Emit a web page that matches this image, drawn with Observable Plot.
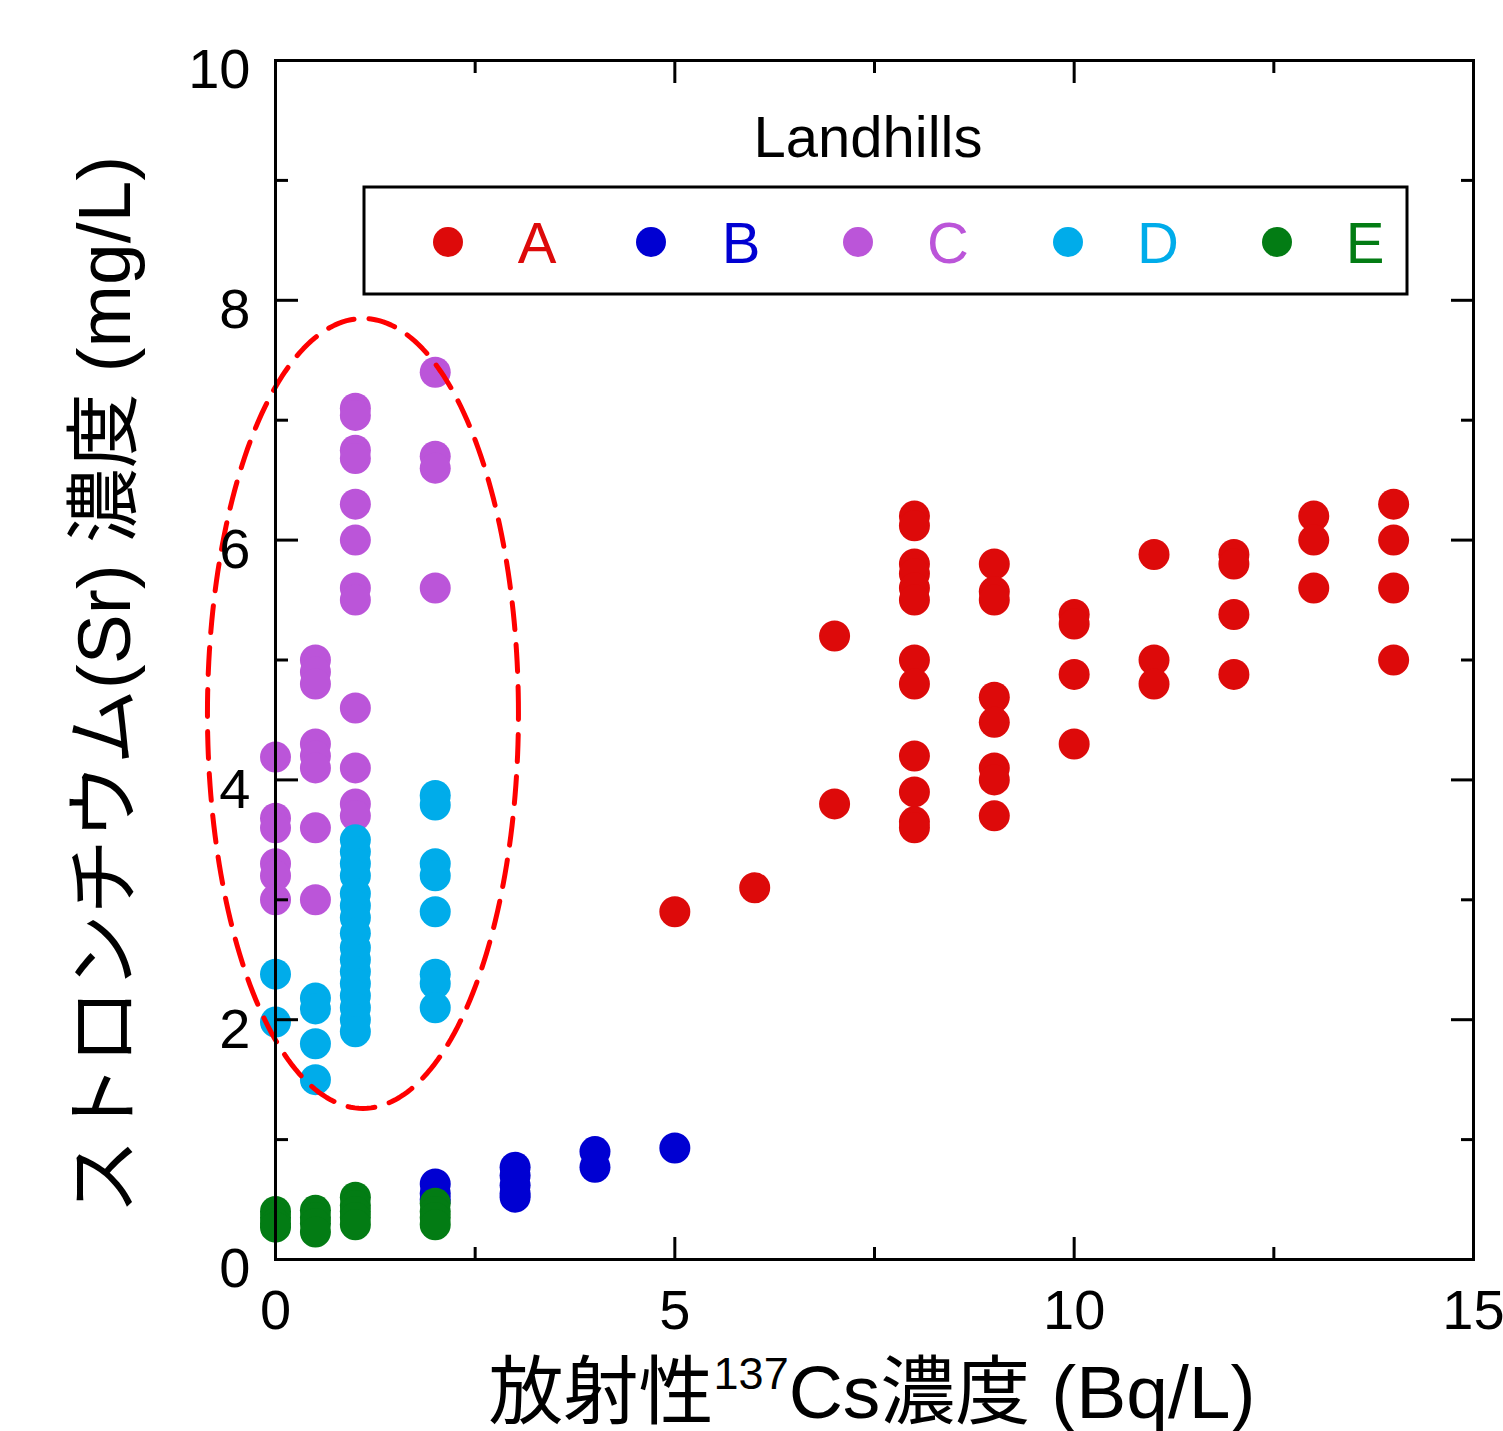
<!DOCTYPE html>
<html>
<head>
<meta charset="utf-8">
<script src="https://cdn.jsdelivr.net/npm/d3@7"></script>
<script src="https://cdn.jsdelivr.net/npm/@observablehq/plot@0.6"></script>
<style>
  html, body { margin: 0; padding: 0; background: #fff; }
  #chart svg { display: block; overflow: visible; }
</style>
</head>
<body>
<div id="chart"></div>
<script>
// ---- data ----
const seriesNames = ["A", "B", "C", "D", "E"];
const seriesColors = ["#dd0a0a", "#0000d2", "#bb55d9", "#00acea", "#037c14"];

const aX = [5, 6, 7, 7,
  8, 8, 8, 8, 8, 8, 8, 8, 8, 8, 8, 8,
  9, 9, 9, 9, 9, 9, 9, 9,
  10, 10, 10, 10,
  11, 11, 11,
  12, 12, 12, 12,
  13, 13, 13,
  14, 14, 14, 14];
const aY = [2.9, 3.1, 5.2, 3.8,
  6.2, 6.12, 5.8, 5.72, 5.6, 5.5, 5.0, 4.8, 4.2, 3.9, 3.65, 3.6,
  5.8, 5.57, 5.5, 4.69, 4.48, 4.1, 4.0, 3.7,
  5.38, 5.3, 4.88, 4.3,
  5.88, 5.0, 4.8,
  5.88, 5.8, 5.38, 4.88,
  6.2, 6.0, 5.6,
  6.3, 6.0, 5.6, 5.0];

const bX = [2, 2, 2, 3, 3, 3, 3, 3, 4, 4, 5];
const bY = [0.63, 0.55, 0.5, 0.77, 0.7, 0.62, 0.55, 0.52, 0.9, 0.77, 0.93];

const cX = [0, 0, 0, 0, 0, 0,
  0.5, 0.5, 0.5, 0.5, 0.5, 0.5, 0.5, 0.5,
  1, 1, 1, 1, 1, 1, 1, 1, 1, 1, 1, 1,
  2, 2, 2, 2];
const cY = [4.19, 3.68, 3.6, 3.3, 3.2, 3.0,
  5.0, 4.9, 4.8, 4.3, 4.2, 4.1, 3.6, 3.0,
  7.1, 7.04, 6.75, 6.68, 6.3, 6.0, 5.6, 5.5, 4.6, 4.1, 3.8, 3.7,
  7.4, 6.7, 6.6, 5.6];

const dX = [0, 0,
  0.5, 0.5, 0.5, 0.5,
  1, 1, 1, 1, 1, 1, 1, 1, 1, 1, 1, 1, 1, 1, 1, 1,
  2, 2, 2, 2, 2, 2, 2, 2];
const dY = [2.38, 1.98,
  2.18, 2.09, 1.8, 1.5,
  3.5, 3.4, 3.3, 3.2, 3.05, 2.95, 2.85, 2.72, 2.6, 2.5, 2.4, 2.3, 2.2, 2.1, 2.0, 1.9,
  3.87, 3.79, 3.3, 3.2, 2.9, 2.38, 2.3, 2.1];

const eX = [0, 0, 0, 0, 0.5, 0.5, 0.5, 0.5, 1, 1, 1, 1, 1, 2, 2, 2, 2];
const eY = [0.4, 0.35, 0.3, 0.27, 0.41, 0.35, 0.3, 0.23, 0.52, 0.45, 0.4, 0.35, 0.29, 0.47, 0.4, 0.35, 0.29];

// axis ticks
const xMajorTicks = [0, 5, 10, 15];
const xMinorTicks = [2.5, 7.5, 12.5];
const yMajorTicks = [0, 2, 4, 6, 8, 10];
const yMinorTicks = [1, 3, 5, 7, 9];

// dashed ellipse annotation (center x, center y, radius x, radius y), data units
const ellipseParams = [1.095, 4.554, 1.947, 3.294];

const legendTitle = "Landhills";
const xTitleParts = ["放射性", "137", "Cs濃度 (Bq/L)"];
const yTitle = "ストロンチウム(Sr) 濃度 (mg/L)";

// ---- build table ----
const seriesXs = [aX, bX, cX, dX, eX];
const seriesYs = [aY, bY, cY, dY, eY];
const points = [];
seriesNames.forEach((name, i) => {
  seriesXs[i].forEach((x, j) => points.push({series: name, x, y: seriesYs[i][j]}));
});

const [ecx, ecy, erx, ery] = ellipseParams;
const ellipse = d3.range(0, 241).map(k => {
  const t = (k / 240) * 2 * Math.PI;
  return {x: ecx + erx * Math.cos(t), y: ecy + ery * Math.sin(t)};
});

const FONT = "'Liberation Sans', Arial, 'Noto Sans CJK JP', sans-serif";
const W = 1503, H = 1431;
const mL = 275, mR = 30, mT = 60, mB = 172;
const noText = () => "";

const plot = Plot.plot({
  width: W,
  height: H,
  marginLeft: mL,
  marginRight: mR,
  marginTop: mT,
  marginBottom: mB,
  style: {fontFamily: FONT, background: "#fff", overflow: "visible"},
  x: {domain: [0, 15], axis: null},
  y: {domain: [0, 10], axis: null},
  color: {domain: seriesNames, range: seriesColors},
  marks: [
    Plot.dot(points, {x: "x", y: "y", fill: "series", r: 15.5, stroke: null}),
    Plot.line(ellipse, {x: "x", y: "y", stroke: "#ff0000", strokeWidth: 5, strokeDasharray: "27,15", curve: "linear-closed"}),
    // ticks (inward, mirrored)
    Plot.axisX({anchor: "bottom", ticks: xMajorTicks, tickSize: -22, strokeWidth: 3, tickFormat: noText, label: null}),
    Plot.axisX({anchor: "bottom", ticks: xMinorTicks, tickSize: -12, strokeWidth: 3, tickFormat: noText, label: null}),
    Plot.axisX({anchor: "top", ticks: xMajorTicks, tickSize: -22, strokeWidth: 3, tickFormat: noText, label: null}),
    Plot.axisX({anchor: "top", ticks: xMinorTicks, tickSize: -12, strokeWidth: 3, tickFormat: noText, label: null}),
    Plot.axisY({anchor: "left", ticks: yMajorTicks, tickSize: -23, strokeWidth: 3, tickFormat: noText, label: null}),
    Plot.axisY({anchor: "left", ticks: yMinorTicks, tickSize: -13, strokeWidth: 3, tickFormat: noText, label: null}),
    Plot.axisY({anchor: "right", ticks: yMajorTicks, tickSize: -23, strokeWidth: 3, tickFormat: noText, label: null}),
    Plot.axisY({anchor: "right", ticks: yMinorTicks, tickSize: -13, strokeWidth: 3, tickFormat: noText, label: null}),
    Plot.axisX({anchor: "bottom", ticks: xMajorTicks, tickSize: 0, tickPadding: 30, fontSize: 56, fill: "#000", label: null}),
    Plot.axisY({anchor: "left", ticks: yMajorTicks, tickSize: 0, tickPadding: 25, fontSize: 56, dy: 10, fill: "#000", label: null}),
    Plot.frame({stroke: "#000", strokeWidth: 3})
  ]
});

document.getElementById("chart").appendChild(plot);

const svg = d3.select(plot);

// legend
const lg = svg.append("g").attr("font-family", FONT);
lg.append("text").attr("x", 868).attr("y", 157).attr("text-anchor", "middle")
  .attr("font-size", 58).attr("fill", "#000").text(legendTitle);
lg.append("rect").attr("x", 364).attr("y", 187).attr("width", 1043).attr("height", 107)
  .attr("fill", "#fff").attr("stroke", "#000").attr("stroke-width", 3);
const dotXs = [448, 651, 858, 1068, 1277];
const labXs = [537, 741, 948, 1158, 1365];
seriesNames.forEach((name, i) => {
  lg.append("circle").attr("cx", dotXs[i]).attr("cy", 242).attr("r", 15).attr("fill", seriesColors[i]);
  lg.append("text").attr("x", labXs[i]).attr("y", 263).attr("text-anchor", "middle")
    .attr("font-size", 58).attr("fill", seriesColors[i]).text(name);
});

// x axis title with superscript
const xt = svg.append("text").attr("x", 872).attr("y", 1418)
  .attr("text-anchor", "middle").attr("font-family", FONT).attr("font-size", 75).attr("fill", "#000");
xt.append("tspan").text(xTitleParts[0]);
xt.append("tspan").attr("font-size", 45).attr("dy", -29).text(xTitleParts[1]);
xt.append("tspan").attr("dy", 29).text(xTitleParts[2]);

// y axis title
svg.append("text").attr("transform", `translate(104, 685) rotate(-90)`)
  .attr("text-anchor", "middle").attr("dominant-baseline", "central")
  .attr("font-family", FONT).attr("font-size", 75).attr("fill", "#000").text(yTitle);
</script>
</body>
</html>
